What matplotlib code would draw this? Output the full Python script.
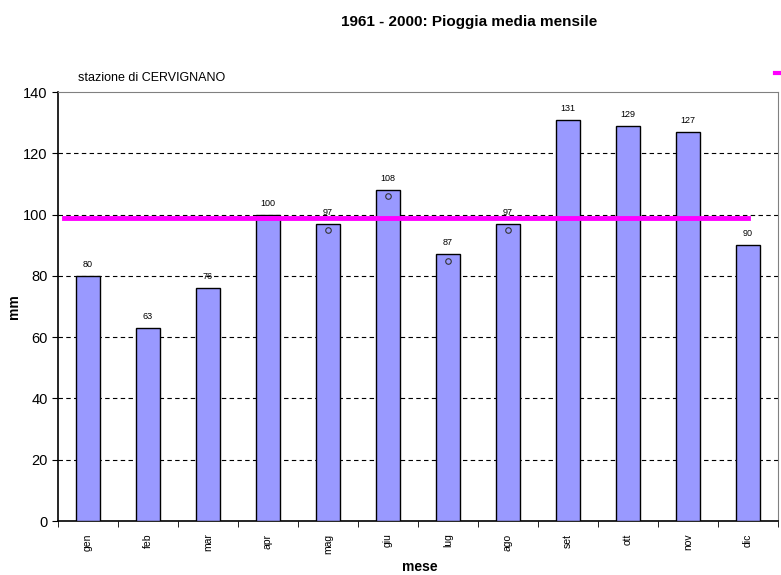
import numpy as np
import matplotlib
matplotlib.use('Agg')
import matplotlib.pyplot as plt

months = ['gen', 'feb', 'mar', 'apr', 'mag', 'giu', 'lug', 'ago', 'set', 'ott', 'nov', 'dic']
rain_mm = [80, 63, 76, 100, 97, 108, 87, 97, 131, 129, 127, 90]
# small open circles visible inside some bars
circle_months = ['mag', 'giu', 'lug', 'ago']
circle_vals = [95, 106, 85, 95]

plt.rcParams['font.family'] = ['Liberation Sans', 'DejaVu Sans']

fig = plt.figure(figsize=(7.81, 5.75), dpi=100)
ax = fig.add_axes([0.0743, 0.0939, 0.9217, 0.7461])

x = np.arange(len(months))
ax.bar(x, rain_mm, width=0.4, color='#9999ff', edgecolor='black', linewidth=1, zorder=3)
for xi, v in zip(x, rain_mm):
    ax.text(xi, v + 2.3, str(v), ha='center', va='bottom', fontsize=6.5, zorder=5)

cx = [months.index(m) for m in circle_months]
ax.plot(cx, circle_vals, ls='none', marker='o', ms=4, mfc='none', mec='#333333', mew=0.8, zorder=4)

mean_val = np.mean(rain_mm)
ax.plot([0 - 0.4, 11], [mean_val, mean_val], color='#ff00ff', lw=3.5, zorder=4)

ax.set_xlim(-0.5, 11.5)
ax.set_ylim(0, 140)
ax.set_yticks(range(0, 141, 20))
ax.tick_params(axis='y', labelsize=10.5, direction='out', length=4)
ax.set_xticks(x)
ax.set_xticklabels(months, rotation=90, fontsize=7.5)
ax.tick_params(axis='x', length=0, pad=9)
ax.set_xticks(np.arange(-0.5, 12, 1), minor=True)
ax.tick_params(axis='x', which='minor', length=4, direction='out')

for yv in range(20, 140, 20):
    ax.axhline(yv, color='black', ls=(0, (4, 3)), lw=0.8, zorder=1)

for s in ['top', 'right']:
    ax.spines[s].set_color('#808080')
ax.spines['left'].set_linewidth(1.2)
ax.spines['bottom'].set_linewidth(1.2)

ax.set_xlabel('mese', fontsize=10, fontweight='bold')
ax.xaxis.set_label_coords(0.5 + (420 - 418) / 720, -0.09)

fig.text(14 / 781, 1 - 307 / 575, 'mm', rotation=90, ha='center', va='center',
         fontsize=10, fontweight='bold')
fig.text(469 / 781, 1 - 22 / 575, '1961 - 2000: Pioggia media mensile', ha='center', va='center',
         fontsize=11, fontweight='bold')
fig.text(78 / 781, 1 - 78 / 575, 'stazione di CERVIGNANO', ha='left', va='center', fontsize=9)

# cut-off legend marker at the top right
fig.add_artist(plt.Line2D([775 / 781, 1.0], [1 - 73 / 575, 1 - 73 / 575], color='#ff00ff', lw=3))

fig.savefig('out.png', dpi=100)
